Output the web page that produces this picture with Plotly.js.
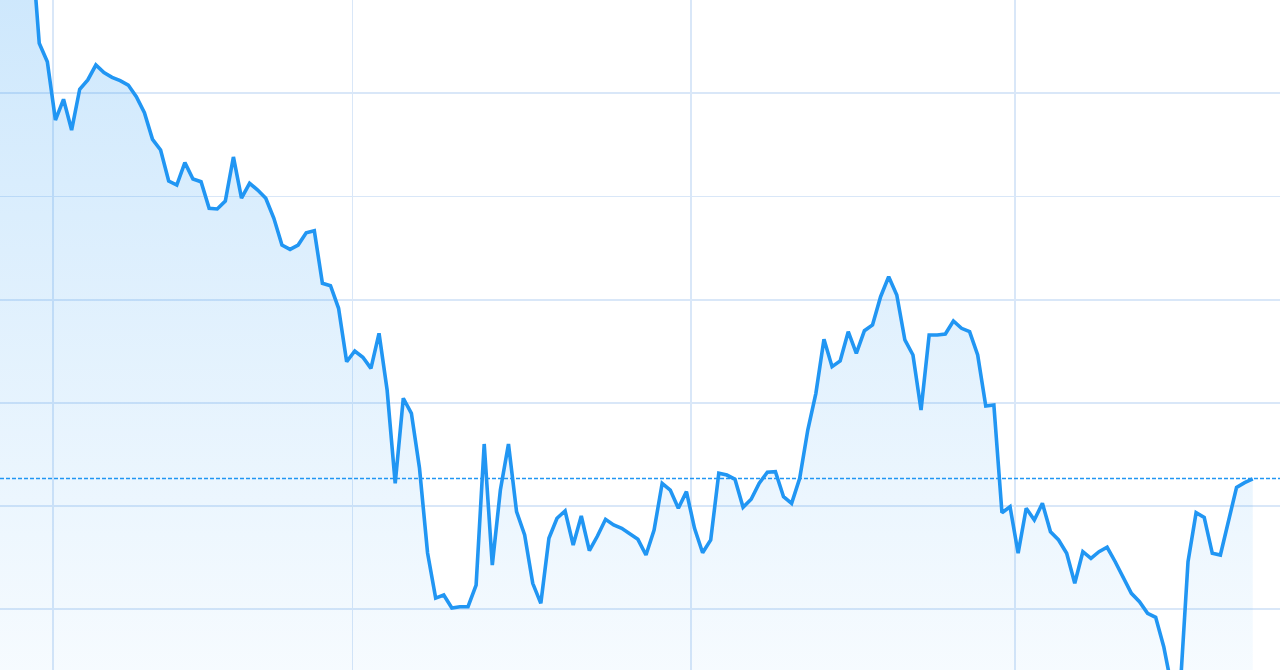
<!DOCTYPE html>
<html>
<head>
<meta charset="utf-8">
<script src="https://cdn.plot.ly/plotly-3.0.1.min.js"></script>
<style>
  html, body { margin: 0; padding: 0; background: #ffffff; }
  #chart { width: 1280px; height: 670px; }
</style>
</head>
<body>
<div id="chart"></div>
<script>
// Price series, one value per session
const prices = [
  82.0, 79.5, 80.5, 78.0, 75.05,
  64.84, 63.06, 57.41, 59.42, 56.44, 60.39, 61.29, 62.74, 62.00, 61.55,
  61.22, 60.80, 59.67, 58.12, 55.54, 54.51, 51.50, 51.11, 53.28, 51.70,
  51.43, 48.86, 48.79, 49.56, 53.83, 49.85,
  51.28, 50.63, 49.83, 47.89, 45.30, 44.88, 45.30, 46.49, 46.69, 41.59,
  41.36, 39.17, 33.99, 35.03, 34.42, 33.35, 36.74, 31.25, 22.20, 30.45,
  28.99,
  23.69, 15.46, 11.09, 11.39, 10.13, 10.25, 10.25, 12.35, 26.02, 14.29,
  21.56, 26.02, 19.46, 17.20, 12.52, 10.58, 16.88, 18.82, 19.53, 16.23,
  19.04, 15.68, 17.10, 18.72, 18.17, 17.85, 17.30, 16.78, 15.26, 17.68,
  22.21, 21.56, 19.79, 21.40, 17.85, 15.48, 16.72,
  23.18, 23.01, 22.60, 19.88, 20.66, 22.21, 23.28, 23.33, 20.91, 20.27,
  22.69, 27.37, 30.93, 36.16, 33.51, 34.06, 36.90, 34.81, 37.00, 37.55,
  40.29, 42.23, 40.46, 36.10, 34.64, 29.31, 36.58, 36.58, 36.68, 37.94,
  37.23, 36.90, 34.64, 29.70, 29.80,
  19.36, 19.94, 15.43, 19.79, 18.65, 20.27, 17.52, 16.72, 15.43, 12.52,
  15.58, 14.94, 15.58, 16.01, 14.61, 13.00, 11.55, 10.74, 9.61, 9.22,
  6.38, 2.4, 1.9, 14.61, 19.36, 18.91, 15.43, 15.26, 18.49, 21.82,
  22.27, 22.63
];
// Session index for each price
const sessions = prices.map((_, i) => i);

// Previous-close reference level (dashed line)
const previousClose = 22.68;

// Grid positions
const xGridTicks = [6.70, 43.72, 85.60, 125.61];
const yGridTicks = [10, 20, 30, 40, 50, 60];

const blue = '#2196F3';
const gridColor = '#d9e7f8';

const trace = {
  x: sessions,
  y: prices,
  type: 'scatter',
  mode: 'lines',
  line: { color: blue, width: 3.6, shape: 'linear' },
  fill: 'tozeroy',
  fillgradient: {
    type: 'vertical',
    start: 4.1,
    stop: 69,
    colorscale: [
      [0, 'rgba(33,150,243,0.04)'],
      [1, 'rgba(33,150,243,0.22)']
    ]
  },
  hoverinfo: 'skip'
};

const layout = {
  width: 1280,
  height: 670,
  margin: { l: 0, r: 0, t: 0, b: 0, pad: 0 },
  paper_bgcolor: '#ffffff',
  plot_bgcolor: '#ffffff',
  showlegend: false,
  xaxis: {
    range: [0.148, 158.37],
    tickmode: 'array',
    tickvals: xGridTicks,
    showticklabels: false,
    ticks: '',
    showgrid: true,
    gridcolor: gridColor,
    gridwidth: 1.7,
    zeroline: false,
    showline: false,
    fixedrange: true
  },
  yaxis: {
    range: [4.12, 69.04],
    tickmode: 'array',
    tickvals: yGridTicks,
    showticklabels: false,
    ticks: '',
    showgrid: true,
    gridcolor: gridColor,
    gridwidth: 1.7,
    zeroline: false,
    showline: false,
    fixedrange: true
  },
  shapes: [{
    type: 'line',
    xref: 'paper', x0: 0, x1: 1,
    yref: 'y', y0: previousClose, y1: previousClose,
    line: { color: blue, width: 1.5, dash: '4px,2px' },
    layer: 'above'
  }]
};

Plotly.newPlot('chart', [trace], layout, { displayModeBar: false, staticPlot: true });
</script>
</body>
</html>
